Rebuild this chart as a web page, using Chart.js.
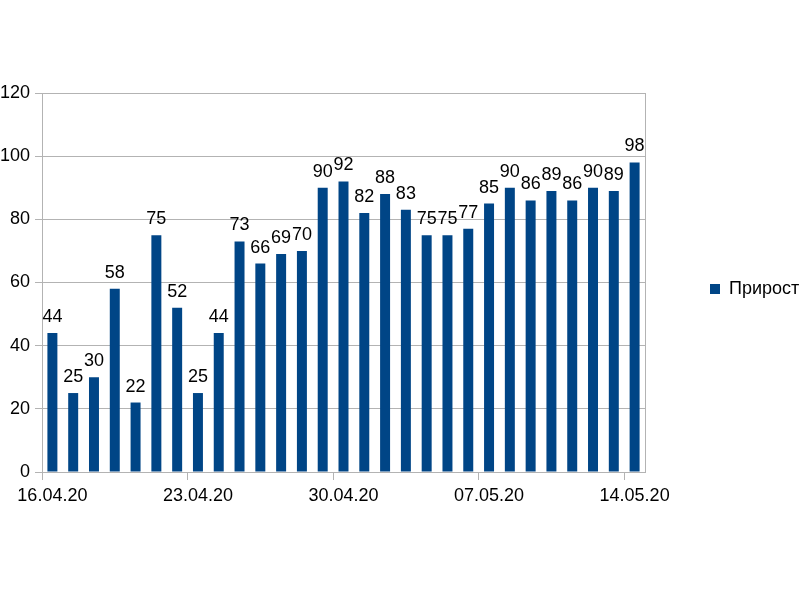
<!DOCTYPE html>
<html>
<head>
<meta charset="utf-8">
<script src="https://cdn.jsdelivr.net/npm/chart.js@4/dist/chart.umd.min.js"></script>
<style>
  html, body { margin: 0; padding: 0; background: #ffffff; }
  #wrap { width: 800px; height: 600px; }
</style>
</head>
<body>
<div id="wrap"><canvas id="c" width="800" height="600"></canvas></div>
<script>
const categories = [
  "16.04.20","17.04.20","18.04.20","19.04.20","20.04.20","21.04.20","22.04.20",
  "23.04.20","24.04.20","25.04.20","26.04.20","27.04.20","28.04.20","29.04.20",
  "30.04.20","01.05.20","02.05.20","03.05.20","04.05.20","05.05.20","06.05.20",
  "07.05.20","08.05.20","09.05.20","10.05.20","11.05.20","12.05.20","13.05.20",
  "14.05.20"
];
const growth = [44,25,30,58,22,75,52,25,44,73,66,69,70,90,92,82,88,83,75,75,77,85,90,86,89,86,90,89,98];
const seriesName = "Прирост";
const yTicks = [0,20,40,60,80,100,120];
const labelEvery = 7;

const FONT = "'Liberation Sans', Arial, sans-serif";
const GRID = '#b3b3b3';

const valueLabels = {
  id: 'valueLabels',
  afterDatasetsDraw(chart) {
    const ctx = chart.ctx;
    ctx.save();
    ctx.font = '18px ' + FONT;
    ctx.fillStyle = '#000000';
    ctx.textAlign = 'center';
    ctx.textBaseline = 'alphabetic';
    const meta = chart.getDatasetMeta(0);
    meta.data.forEach((bar, i) => {
      ctx.fillText(String(chart.data.datasets[0].data[i]), bar.x, bar.y - 11);
    });
    ctx.restore();
  }
};

const rightBorder = {
  id: 'rightBorder',
  afterLayout(chart) {
    // let the x-axis labels draw below the (short) axis box
    chart.scales.x.bottom = chart.height;
  },
  beforeDatasetsDraw(chart) {
    const a = chart.chartArea, ctx = chart.ctx;
    ctx.save();
    ctx.strokeStyle = GRID;
    ctx.lineWidth = 1;
    ctx.beginPath();
    ctx.moveTo(Math.round(a.right) + 0.5, a.top);
    ctx.lineTo(Math.round(a.right) + 0.5, a.bottom);
    ctx.stroke();
    ctx.restore();
  }
};

new Chart(document.getElementById('c'), {
  type: 'bar',
  data: {
    labels: categories,
    datasets: [{
      label: seriesName,
      data: growth,
      backgroundColor: '#004586',
      borderWidth: 0,
      categoryPercentage: 1.0,
      barPercentage: 0.48
    }]
  },
  options: {
    responsive: false,
    animation: false,
    devicePixelRatio: 1,
    layout: { padding: { top: 93, bottom: 115, left: 0, right: 0 } },
    plugins: {
      tooltip: { enabled: false },
      legend: {
        position: 'right',
        maxWidth: 155,
        labels: {
          boxWidth: 10,
          boxHeight: 10,
          padding: 65,
          color: '#000000',
          font: { family: FONT, size: 18 }
        }
      }
    },
    scales: {
      x: {
        offset: true,
        afterFit: s => { s.height = 13; },
        grid: {
          offset: true,
          drawOnChartArea: false,
          drawTicks: true,
          tickLength: 8,
          color: c => (c.index !== undefined && c.index % labelEvery === 0) ? GRID : 'rgba(0,0,0,0)'
        },
        border: { display: true, color: GRID },
        ticks: {
          autoSkip: false,
          maxRotation: 0,
          minRotation: 0,
          padding: 5,
          color: '#000000',
          font: { family: FONT, size: 18 },
          callback: function(v, i) { return i % labelEvery === 0 ? categories[i] : ''; }
        }
      },
      y: {
        min: yTicks[0],
        max: yTicks[yTicks.length - 1],
        afterFit: s => { s.width = 42; },
        afterBuildTicks: s => { s.ticks = yTicks.map(v => ({ value: v })); },
        grid: { color: GRID, tickLength: 7 },
        border: { display: true, color: GRID },
        ticks: {
          padding: 5,
          color: '#000000',
          font: { family: FONT, size: 18 }
        }
      }
    }
  },
  plugins: [valueLabels, rightBorder]
});
</script>
</body>
</html>
